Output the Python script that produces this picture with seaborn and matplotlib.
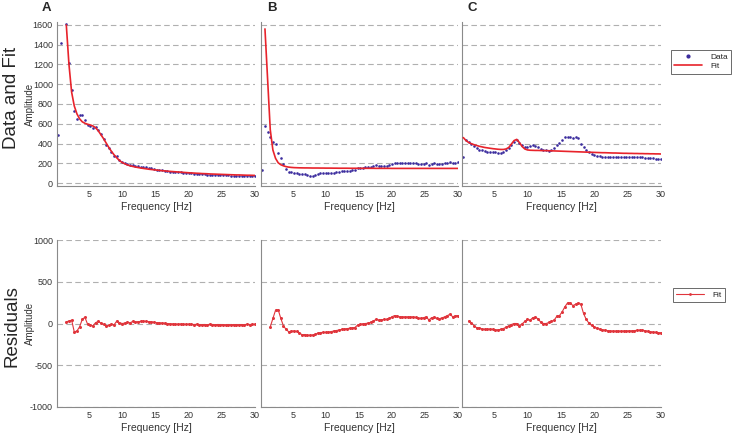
"""
Spectrum fits: data and fit (top row) and residuals (bottom row)
for three recordings A, B, C
"""
import numpy as np
import matplotlib
matplotlib.use("Agg")
import matplotlib.pyplot as plt
from matplotlib.lines import Line2D
import seaborn as sns

nan = np.nan

# frequency bins [Hz], 0.4 Hz resolution
freq = np.round(np.arange(1, 76) * 0.4, 1)

panel_labels = ['A', 'B', 'C']

# --- Panel A ---
data_a = [486, 1418, nan, 1611, 1217,
          942, 725, 650, 685, 690,
          640, 590, 580, 562, 565,
          540, 492, 445, 390, 350,
          315, 277, 272, 234, 208,
          198, 191, 180, 182, 173,
          169, 166, 163, 158, 152,
          148, 142, 137, 133, 128,
          125, 120, 116, 113, 110,
          108, 107, 104, 101, 100,
          97, 94, 94, 91, 88,
          88, 86, 86, 84, 82,
          82, 80, 80, 78, 77,
          75, 76, 74, 74, 74,
          72, 73, 72, 72, 71]
fit_a = [nan, nan, nan, 1600, 1200,
         920, 780, 700, 650, 620,
         605, 595, 588, 578, 560,
         530, 490, 450, 405, 360,
         320, 285, 255, 228, 208,
         195, 183, 175, 168, 162,
         157, 152, 148, 144, 140,
         137, 134, 131, 128, 125,
         123, 120, 118, 116, 114,
         112, 110, 108, 106, 104,
         102, 101, 99, 98, 96,
         95, 94, 92, 91, 90,
         89, 88, 87, 86, 85,
         84, 83, 82, 82, 81,
         80, 79, 79, 78, 77]
resid_a = [nan, nan, nan, 20, 30,
           40, -100, -90, -40, 50,
           75, -8, -15, -30, 10,
           25, 5, -10, -30, -20,
           -8, -15, 30, 10, 0,
           5, 15, 8, 25, 20,
           22, 25, 28, 25, 22,
           20, 15, 10, 8, 5,
           3, 0, -3, -5, -8,
           -8, -6, -8, -10, -8,
           -10, -12, -10, -12, -14,
           -12, -14, -10, -12, -14,
           -12, -15, -13, -15, -14,
           -16, -12, -14, -15, -12,
           -14, -10, -12, -10, -10]

# --- Panel B ---
data_b = [130, 577, 520, 470, 418,
          400, 300, 250, 190, 139,
          110, 108, 104, 98, 96,
          90, 88, 78, 74, 76,
          86, 96, 98, 98, 98,
          100, 104, 106, 110, 115,
          118, 121, 124, 125, 127,
          132, 150, 155, 157, 158,
          160, 164, 170, 178, 174,
          172, 173, 174, 183, 192,
          200, 203, 200, 200, 200,
          199, 200, 200, 198, 192,
          192, 196, 200, 185, 195,
          200, 192, 190, 195, 200,
          205, 212, 200, 206, 208]
fit_b = [nan, 1560, 1050, 540, 334,
         250, 205, 185, 174, 166,
         161, 158, 156, 155, 154,
         153.5, 153, 153, 152.5, 152,
         152, 152, 151.5, 151.5, 151,
         151, 151, 150.5, 150.5, 150,
         150, 150, 150, 149.5, 149.5,
         149.5, 149.5, 149, 149, 149,
         149, 149, 149, 148.5, 148.5,
         148.5, 148.5, 148.5, 148.5, 148,
         148, 148, 148, 148, 148,
         148, 148, 148, 148, 148,
         148, 148, 148, 148, 148,
         148, 148, 148, 148, 148,
         148, 148, 148, 148, 148]
resid_b = [nan, nan, nan, -40, 60,
           159, 165, 60, -30, -70,
           -100, -92, -90, -95, -110,
           -135, -132, -142, -140, -138,
           -131, -115, -108, -107, -106,
           -103, -97, -90, -84, -78,
           -71, -65, -61, -57, -52,
           -48, -20, -10, -4, 0,
           4, 15, 30, 48, 42,
           44, 48, 48, 60, 80,
           95, 87, 80, 79, 79,
           79, 78, 79, 72, 62,
           62, 70, 79, 42, 70,
           75, 60, 58, 68, 80,
           95, 111, 80, 92, 95]

# --- Panel C ---
data_c = [266, 440, 415, 400, 370,
          351, 338, 330, 320, 318,
          317, 314, 310, 308, 306,
          312, 330, 355, 390, 418,
          435, 410, 385, 368, 368,
          372, 385, 378, 366, 344,
          336, 330, 327, 335, 358,
          380, 405, 440, 469, 470,
          462, 460, 470, 452, 400,
          365, 335, 312, 294, 285,
          278, 272, 266, 265, 266,
          264, 264, 263, 262, 262,
          263, 262, 264, 265, 266,
          265, 264, 262, 258, 255,
          252, 250, 248, 245, 243]
fit_c = [460, 430, 410, 398, 388,
         380, 372, 366, 360, 356,
         352, 348, 345, 342, 340,
         340, 345, 360, 395, 430,
         442, 410, 370, 345, 335,
         332, 331, 330, 330, 329,
         328, 328, 327, 326, 325,
         324, 323, 322, 321, 320,
         319, 318, 317, 316, 315,
         314, 313, 312, 311, 310,
         309, 308, 307, 307, 306,
         305, 304, 304, 303, 302,
         301, 301, 300, 300, 299,
         299, 298, 298, 297, 297,
         296, 296, 295, 295, 294]
resid_c = [nan, nan, 30, 10, -25,
           -52, -52, -65, -70, -67,
           -67, -70, -76, -76, -70,
           -60, -45, -28, -12, 0,
           0, -28, -5, 25, 48,
           40, 70, 76, 55, 15,
           0, 0, 12, 25, 40,
           87, 95, 140, 200, 246,
           246, 215, 230, 246, 230,
           120, 50, 5, -22, -40,
           -57, -66, -74, -80, -86,
           -90, -90, -91, -91, -91,
           -90, -90, -88, -88, -85,
           -82, -80, -80, -86, -93,
           -98, -103, -106, -110, -111]

top_yticks = [0, 200, 400, 600, 800, 1000, 1200, 1400, 1600]
bottom_yticks = [-1000, -500, 0, 500, 1000]
xticks = [5, 10, 15, 20, 25, 30]

DATA_COLOR = '#3b2c9e'
FIT_COLOR = '#e8232b'
RES_COLOR = '#e0353c'
GRID_COLOR = '#b0b0b0'
AXIS_COLOR = '#8a8a8a'
TEXT_COLOR = '#333333'

sns.set_style("white")
plt.rcParams['font.family'] = ['Liberation Sans', 'DejaVu Sans']
plt.rcParams['axes.unicode_minus'] = False

W, H = 734, 437
fig = plt.figure(figsize=(W / 100, H / 100), dpi=100)

# panel positions in pixels: (left, width)
cols = [(57, 198), (261, 197), (462, 199)]


def add_axes(left, width, top, bottom):
    return fig.add_axes([left / W, 1 - bottom / H, width / W, (bottom - top) / H])


def style_axes(ax, yticks, ylim, first):
    ax.set_xlim(0.2, 30)
    ax.set_ylim(*ylim)
    ax.set_xticks(xticks)
    ax.set_yticks(yticks)
    ax.grid(axis='y', color=GRID_COLOR, linestyle=(0, (5, 3)), linewidth=0.8)
    ax.set_axisbelow(True)
    sns.despine(ax=ax)
    for side in ['left', 'bottom']:
        ax.spines[side].set_color(AXIS_COLOR)
        ax.spines[side].set_linewidth(0.8)
    ax.tick_params(direction='in', length=3, width=0.6, color=AXIS_COLOR,
                   labelsize=6.5, labelcolor=TEXT_COLOR, pad=3)
    ax.set_xlabel('Frequency [Hz]', fontsize=7.5, color=TEXT_COLOR, labelpad=2)
    if first:
        ax.set_ylabel('Amplitude', fontsize=7, color=TEXT_COLOR)
        # right edge of the rotated label sits at ~35 px
        ax.yaxis.set_label_coords(-22 / 198, 0.5)
    else:
        ax.tick_params(labelleft=False)
        ax.set_ylabel('')


panels = [(data_a, fit_a, resid_a), (data_b, fit_b, resid_b), (data_c, fit_c, resid_c)]

for i, ((left, width), (data, fit, resid)) in enumerate(zip(cols, panels)):
    # Data and fit
    ax = add_axes(left, width, 22, 186)
    sns.scatterplot(x=freq, y=np.array(data, dtype=float), ax=ax, color=DATA_COLOR,
                    s=3.5, linewidth=0, zorder=2)
    sns.lineplot(x=freq, y=np.array(fit, dtype=float), ax=ax, color=FIT_COLOR,
                 linewidth=1.2, zorder=3)
    style_axes(ax, top_yticks, (-30, 1630), i == 0)

    # Residuals
    ax = add_axes(left, width, 240, 407)
    sns.lineplot(x=freq, y=np.array(resid, dtype=float), ax=ax, color=RES_COLOR,
                 linewidth=0.8, marker='o', markersize=2.2, markeredgewidth=0, zorder=3)
    style_axes(ax, bottom_yticks, (-1000, 1000), i == 0)

# panel letters
for x_px, lab in zip([42, 267, 467], panel_labels):
    fig.text(x_px / W, 1 - 2 / H, lab, fontsize=9.5, fontweight='bold', va='top', ha='left')

# row titles
fig.text(12 / W, 1 - 98 / H, 'Data and Fit', rotation=90, fontsize=13.5,
         ha='center', va='center')
fig.text(12 / W, 1 - 326 / H, 'Residuals', rotation=90, fontsize=13.5,
         ha='center', va='center')

# legends
top_handles = [Line2D([], [], linestyle='none', marker='o', markersize=2,
                      color=DATA_COLOR),
               Line2D([], [], color=FIT_COLOR, linewidth=1.2)]
leg = fig.legend(top_handles, ['Data', 'Fit'], loc='center',
                 bbox_to_anchor=(701 / W, 1 - 61.5 / H), fontsize=6,
                 frameon=True, fancybox=False, edgecolor='#444444',
                 handlelength=3.4, borderpad=0.4, labelspacing=0.2, handletextpad=1.0)
leg.get_frame().set_linewidth(0.7)

bottom_handles = [Line2D([], [], color=RES_COLOR, linewidth=0.8, marker='o',
                         markersize=2, markeredgewidth=0)]
leg = fig.legend(bottom_handles, ['Fit'], loc='center',
                 bbox_to_anchor=(699 / W, 1 - 295 / H), fontsize=6,
                 frameon=True, fancybox=False, edgecolor='#444444',
                 handlelength=3.4, borderpad=0.4, handletextpad=1.0)
leg.get_frame().set_linewidth(0.7)

fig.savefig('out.png', dpi=100)
plt.close(fig)
